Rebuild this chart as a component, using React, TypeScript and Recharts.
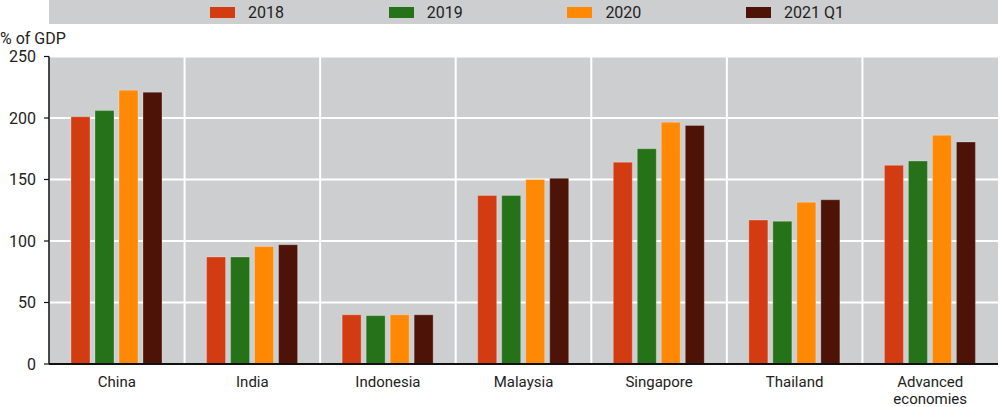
import { BarChart, Bar, XAxis, YAxis, CartesianGrid } from 'recharts'

const categories = ['China', 'India', 'Indonesia', 'Malaysia', 'Singapore', 'Thailand', 'Advanced economies']
const seriesNames = ['2018', '2019', '2020', '2021 Q1']
const values2018 = [201, 87, 40, 137, 164, 117, 161.5]
const values2019 = [206, 87, 39.3, 137, 175, 116, 165]
const values2020 = [222.5, 95.5, 40, 150, 196.5, 131.5, 186]
const values2021Q1 = [221, 97, 40, 151, 194, 133.5, 180.5]
const yTicks = [0, 50, 100, 150, 200, 250]
const boundaryTicks = [1, 2, 3, 4, 5, 6]

const colors = ['#d33c12', '#267219', '#ff8804', '#4d1307']
const keys = ['y2018', 'y2019', 'y2020', 'y2021q1']
const plotBg = '#cdcecf'
const font = "Roboto, 'Liberation Sans', sans-serif"

const data = categories.map((name, i) => ({
  name,
  y2018: values2018[i],
  y2019: values2019[i],
  y2020: values2020[i],
  y2021q1: values2021Q1[i],
}))

// white separators sit on the category boundaries, not on the ticks
const boundaryLines = ({ offset }: any) =>
  categories.slice(1).map((_, i) => offset.left + (offset.width * (i + 1)) / categories.length)

function CategoryTick({ x, y, payload }: any) {
  const label: string = payload.value
  const lines = label.length > 10 ? label.split(' ') : [label]
  return (
    <g>
      {lines.map((line, i) => (
        <text
          key={i}
          x={x}
          y={y + 14.5 + i * 17.6}
          textAnchor="middle"
          fill="#222"
          fontSize={15}
          fontFamily={font}
        >
          {line}
        </text>
      ))}
    </g>
  )
}

function LegendBand() {
  return (
    <div
      style={{
        position: 'absolute',
        left: 49,
        top: 0,
        width: 949,
        height: 24,
        background: plotBg,
        display: 'flex',
        alignItems: 'center',
        paddingLeft: 161,
        boxSizing: 'border-box',
        fontFamily: font,
        fontSize: 16,
        color: '#222',
      }}
    >
      {seriesNames.map((s, i) => (
        <div key={s} style={{ width: 178.7, display: 'flex', alignItems: 'center', gap: 13 }}>
          <span style={{ display: 'inline-block', width: 25, height: 11, background: colors[i] }} />
          <span>{s}</span>
        </div>
      ))}
    </div>
  )
}

export default function App() {
  return (
    <div style={{ position: 'absolute', left: 0, top: 0, width: 1000, height: 407, background: '#fff' }}>
      <LegendBand />
      <div style={{ position: 'absolute', left: 0, top: 29, fontFamily: font, fontSize: 16, color: '#222' }}>
        % of GDP
      </div>
      <BarChart
        width={1000}
        height={407}
        data={data}
        margin={{ top: 56.5, right: 2, left: 0, bottom: 0 }}
        barSize={19}
        barGap={5}
      >
        <CartesianGrid
          fill={plotBg}
          stroke="#fff"
          strokeWidth={2}
          verticalCoordinatesGenerator={boundaryLines}
        />
        <XAxis
          xAxisId="edges"
          type="number"
          domain={[0, 7]}
          ticks={boundaryTicks}
          height={0}
          mirror
          axisLine={false}
          tickSize={5}
          tickFormatter={() => ''}
          tickLine={{ stroke: '#333', strokeWidth: 1.2 }}
        />
        <XAxis
          dataKey="name"
          height={43}
          interval={0}
          tickLine={false}
          axisLine={{ stroke: '#111', strokeWidth: 2 }}
          tick={<CategoryTick />}
        />
        <YAxis
          width={49}
          domain={[0, 250]}
          ticks={yTicks}
          interval={0}
          tickSize={5}
          tickMargin={8}
          axisLine={{ stroke: '#111', strokeWidth: 1.5 }}
          tickLine={{ stroke: '#111', strokeWidth: 1.2 }}
          tick={{ fill: '#222', fontSize: 16, fontFamily: font }}
        />
        {keys.map((k, i) => (
          <Bar
            key={k}
            dataKey={k}
            name={seriesNames[i]}
            fill={colors[i]}
            stroke="rgba(255,255,255,0.25)"
            strokeWidth={1}
            isAnimationActive={false}
          />
        ))}
      </BarChart>
    </div>
  )
}
